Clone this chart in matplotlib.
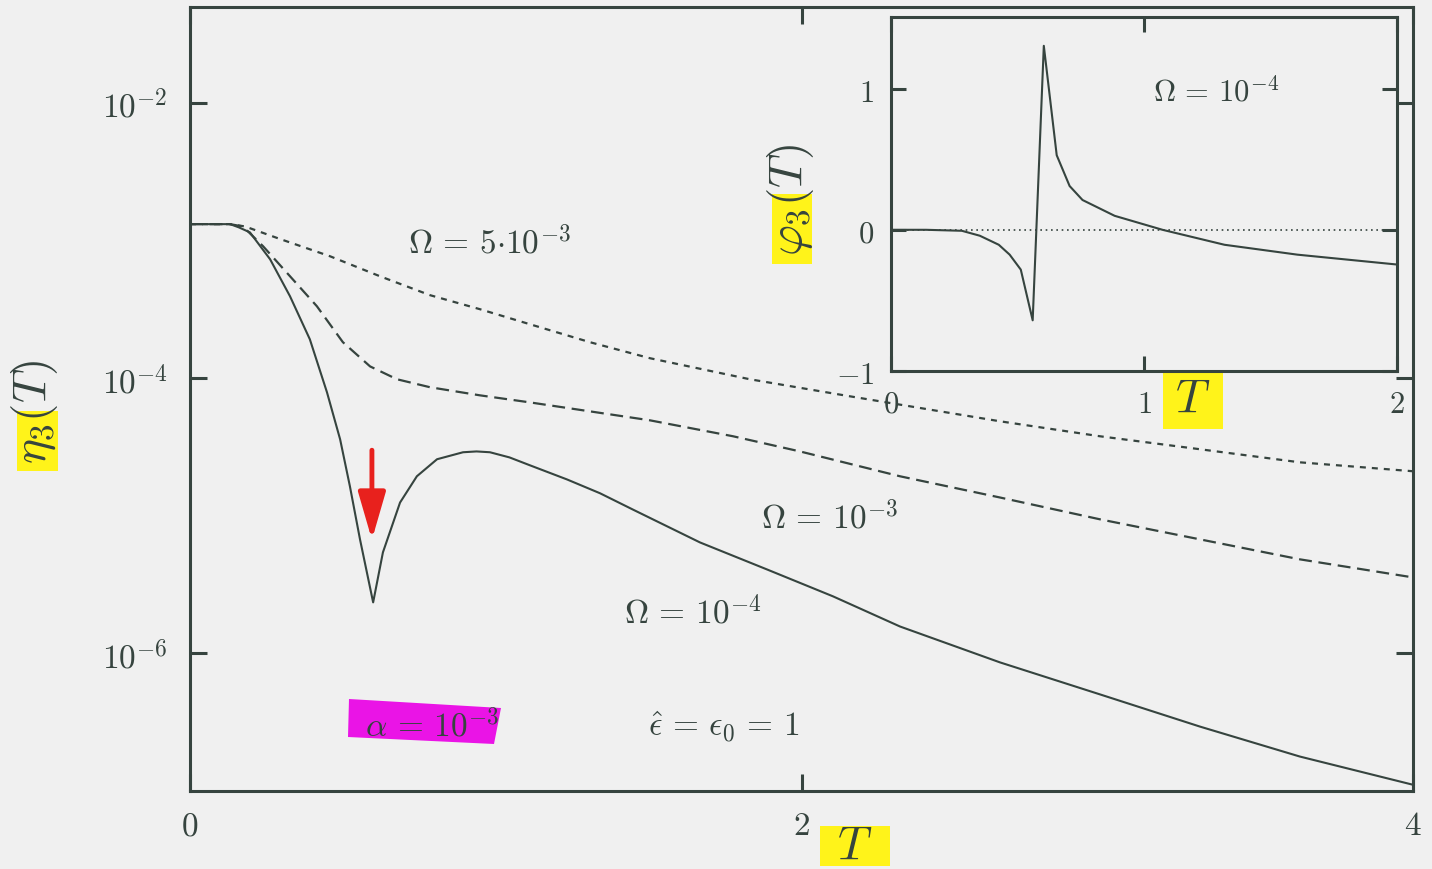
import numpy as np
import matplotlib.pyplot as plt
from matplotlib.patches import Polygon
from matplotlib.ticker import NullLocator

plt.rcParams['mathtext.fontset'] = 'cm'
plt.rcParams['font.family'] = 'serif'

# eta_3(T) for three values of Omega
T_dotted = [0, 0.131, 0.18, 0.294, 0.458, 0.621, 0.785, 0.948, 1.112, 1.308,
            1.504, 1.831, 2.158, 2.649, 2.976, 3.303, 3.63, 4.0]
eta_dotted = [1.32e-3, 1.32e-3, 1.27e-3, 1.03e-3, 7.71e-4, 5.52e-4, 4.02e-4,
              3.18e-4, 2.47e-4, 1.83e-4, 1.40e-4, 9.84e-5, 7.40e-5, 4.87e-5,
              3.79e-5, 3.05e-5, 2.45e-5, 2.11e-5]

T_dashed = [0, 0.131, 0.173, 0.239, 0.327, 0.415, 0.5, 0.589, 0.677, 0.785,
            0.948, 1.112, 1.308, 1.504, 1.776, 1.995, 2.322, 2.649, 2.976,
            3.303, 3.63, 4.0]
eta_dashed = [1.32e-3, 1.32e-3, 1.27e-3, 9.12e-4, 5.52e-4, 3.34e-4, 1.83e-4,
              1.22e-4, 9.84e-5, 8.61e-5, 7.52e-5, 6.68e-5, 5.75e-5, 4.95e-5,
              3.79e-5, 2.94e-5, 1.94e-5, 1.36e-5, 9.44e-6, 6.75e-6, 4.83e-6,
              3.57e-6]

T_solid = [0, 0.131, 0.16, 0.196, 0.262, 0.327, 0.392, 0.448, 0.491, 0.523,
           0.556, 0.599, 0.631, 0.687, 0.742, 0.808, 0.893, 0.937, 0.981,
           1.045, 1.112, 1.233, 1.341, 1.449, 1.668, 1.887, 2.103, 2.322,
           2.649, 2.976, 3.303, 3.63, 4.0]
eta_solid = [1.32e-3, 1.32e-3, 1.25e-3, 1.15e-3, 7.33e-4, 3.95e-4, 1.92e-4,
             7.91e-5, 3.60e-5, 1.64e-5, 6.75e-6, 2.35e-6, 5.43e-6, 1.25e-5,
             1.94e-5, 2.58e-5, 2.90e-5, 2.94e-5, 2.90e-5, 2.66e-5, 2.33e-5,
             1.84e-5, 1.46e-5, 1.11e-5, 6.41e-6, 4.08e-6, 2.60e-6, 1.57e-6,
             8.61e-7, 5.04e-7, 2.94e-7, 1.78e-7, 1.11e-7]

# phase phi_3(T), Omega = 1e-4
T_phi = [0, 0.138, 0.28, 0.351, 0.426, 0.469, 0.513, 0.56, 0.604, 0.655,
         0.706, 0.757, 0.884, 1.073, 1.318, 1.606, 2.0]
phi = [0, 0, -0.007, -0.042, -0.106, -0.176, -0.282, -0.641, 1.303, 0.528,
       0.310, 0.211, 0.099, 0.0, -0.106, -0.176, -0.246]

main_xticks = [0, 2, 4]
main_yticks = [1e-2, 1e-4, 1e-6]
main_yticklabels = ['$10^{-2}$', '$10^{-4}$', '$10^{-6}$']
inset_xticks = [0, 1, 2]
inset_yticks = [-1, 0, 1]

bg = '#f0f0f0'
ink = '#36443f'
yellow = '#fff31a'
magenta = '#ea14e6'

W, H = 1432, 870
fig = plt.figure(figsize=(W / 100, H / 100), dpi=100, facecolor=bg)


def fx(x, y):
    return (x / W, 1 - y / H)


def box(x0, y0, x1, y1):
    return [fx(x0, y0), fx(x1, y0), fx(x1, y1), fx(x0, y1)]


# marker-pen highlights
for pts, c in [(box(17, 412, 58, 472), yellow),
               (box(820, 827, 890, 867), yellow),
               (box(772, 195, 812, 265), yellow),
               (box(1163, 373, 1223, 430), yellow),
               ([fx(349, 700), fx(501, 709), fx(494, 745), fx(348, 738)], magenta)]:
    fig.add_artist(Polygon(pts, closed=True, transform=fig.transFigure,
                           facecolor=c, edgecolor='none', zorder=-1))

ax = fig.add_axes([190 / W, 1 - 792 / H, (1413 - 190) / W, (792 - 8) / H])
ax.set_facecolor('none')
ax.set_yscale('log')
ax.plot(T_dotted, eta_dotted, color=ink, lw=1.6, dashes=(2.7, 2.7))
ax.plot(T_dashed, eta_dashed, color=ink, lw=1.6, dashes=(5.8, 3.0))
ax.plot(T_solid, eta_solid, color=ink, lw=1.5)
ax.set_xlim(0, 4)
ax.set_ylim(1e-7, 5e-2)
ax.set_xticks(main_xticks)
ax.set_xticklabels(['$%d$' % t for t in main_xticks])
ax.set_yticks(main_yticks)
ax.set_yticklabels(main_yticklabels)
ax.yaxis.set_minor_locator(NullLocator())
ax.tick_params(direction='in', length=12, width=2.2, top=True, right=True,
               labelsize=24, color=ink, labelcolor=ink)
ax.tick_params(axis='x', pad=13)
ax.tick_params(axis='y', pad=16)
for s in ax.spines.values():
    s.set_linewidth(2.2)
    s.set_color(ink)

ax.text(0.981, 9.75e-4, r'$\Omega\, =\, 5{\cdot}10^{-3}$', fontsize=24,
        color=ink, ha='center', va='center')
ax.text(2.093, 9.75e-6, r'$\Omega\, =\, 10^{-3}$', fontsize=24, color=ink,
        ha='center', va='center')
ax.text(1.645, 1.99e-6, r'$\Omega\, =\, 10^{-4}$', fontsize=24, color=ink,
        ha='center', va='center')
ax.text(1.746, 2.99e-7, r'$\hat{\epsilon}\, =\, \epsilon_0\, =\, 1$',
        fontsize=24, color=ink, ha='center', va='center')
ax.text(0.791, 2.99e-7, r'$\alpha\, =\, 10^{-3}$', fontsize=24, color=ink,
        ha='center', va='center')

ax.annotate('', xy=(0.595, 6.7e-6), xytext=(0.595, 3.0e-5),
            arrowprops=dict(arrowstyle='-|>,head_length=1.45,head_width=0.42',
                            mutation_scale=20, color='#e8211d', lw=3.5,
                            shrinkA=0, shrinkB=0))

fig.text(*fx(35, 412), r'$\eta_3(T)$', fontsize=34, rotation=90,
         ha='center', va='center', color=ink)
fig.text(*fx(855, 846), r'$T$', fontsize=34, ha='center', va='center',
         color=ink)

# inset: phase
axin = fig.add_axes([891 / W, 1 - 372 / H, (1397 - 891) / W, (372 - 18) / H])
axin.set_facecolor(bg)
axin.axhline(0, color=ink, lw=1.2, dashes=(1.0, 2.2))
axin.plot(T_phi, phi, color=ink, lw=1.5)
axin.set_xlim(0, 2)
axin.set_ylim(-1, 1.507)
axin.set_xticks(inset_xticks)
axin.set_xticklabels(['$%d$' % t for t in inset_xticks])
axin.set_yticks(inset_yticks)
axin.set_yticklabels(['$%d$' % t for t in inset_yticks])
axin.tick_params(direction='in', length=11, width=2.2, top=True, right=True,
                 labelsize=22, color=ink, labelcolor=ink)
axin.tick_params(axis='x', pad=12)
axin.tick_params(axis='y', pad=12)
for s in axin.spines.values():
    s.set_linewidth(2.2)
    s.set_color(ink)
axin.text(1.286, 0.979, r'$\Omega\, =\, 10^{-4}$', fontsize=22, color=ink,
          ha='center', va='center')

fig.text(*fx(790, 200), r'$\varphi_3(T)$', fontsize=34, rotation=90,
         ha='center', va='center', color=ink)
fig.text(*fx(1193, 399), r'$T$', fontsize=34, ha='center', va='center',
         color=ink)

fig.savefig('out.png', dpi=100, facecolor=bg)
